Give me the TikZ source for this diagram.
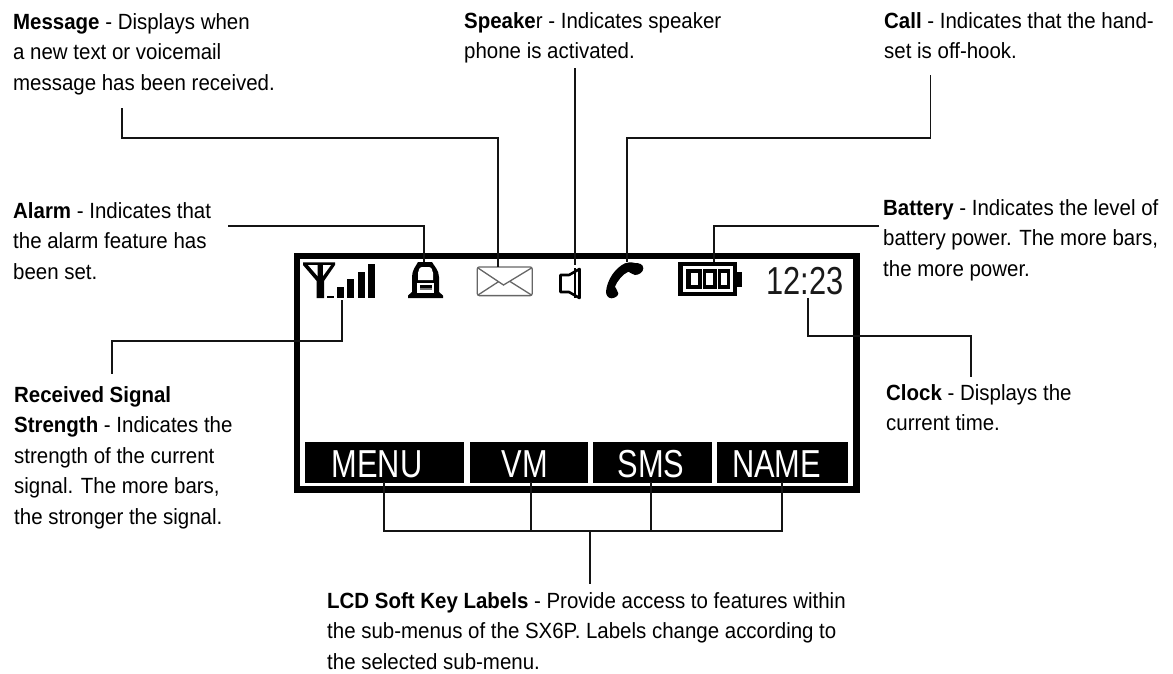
\documentclass[tikz,border=0pt]{standalone}
\usepackage{fontspec}
\setmainfont[FakeStretch=0.93]{Liberation Sans}
\newfontfamily\lcdfont[FakeStretch=0.79]{Liberation Sans}
\tikzset{
 x=1pt,y=-1pt,
 note/.style={anchor=north west,inner sep=0pt,align=left,font=\fontsize{22}{30.5}\selectfont,text=black},
 wire/.style={draw=black!92,line width=1.6pt},
 keybox/.style={fill=black,inner sep=0pt,outer sep=0pt,minimum height=41pt},
 lcdtext/.style={inner sep=0pt,font=\fontsize{39}{39}\selectfont\lcdfont},
}
\begin{document}
\begin{tikzpicture}
\useasboundingbox (0,0) rectangle (1173,673);
% LCD frame
\node[draw=black,line width=6.5pt,minimum width=559.5pt,minimum height=233.5pt,inner sep=0pt,outer sep=0pt,anchor=north west] (lcd) at (297.2,256) {};
% soft keys
\node[keybox,minimum width=159pt] (menu) at (384.5,462.2) {};
\node[keybox,minimum width=118pt] (vm) at (529,462.2) {};
\node[keybox,minimum width=118.5pt] (sms) at (652.5,462.2) {};
\node[keybox,minimum width=131pt] (name) at (782.2,462.2) {};
\node[lcdtext,text=white,anchor=base] (menut) at (377,477.7) {MENU};
\node[lcdtext,text=white,anchor=base] (vmt) at (525,477.7) {VM};
\node[lcdtext,text=white,anchor=base] (smst) at (651,477.7) {SMS};
\node[lcdtext,text=white,anchor=base] (namet) at (776.7,477.7) {NAME};
\node[lcdtext,text=black!90,anchor=base] (clock) at (805,294) {12:23};
% antenna and signal bars
\fill (303,262.3) -- (335,262.3) -- (335,265) -- (324,281) -- (324,298) -- (316.7,298) -- (316.7,281) -- (303,265) -- cycle;
\fill[white] (308,265) -- (317.5,265) -- (317.5,276) -- cycle;
\fill[white] (323,265) -- (331,265) -- (323,276) -- cycle;
\fill (327,295.7) rectangle (334,298);
\fill (336.7,287) rectangle (344,298);
\fill (346.7,279) rectangle (354,298);
\fill (357.7,271.7) rectangle (365,298);
\fill (367.7,264) rectangle (375,298);
% bell icon
\fill (408,298) -- (408,295.5) -- (412,292) -- (412,277) .. controls (412,270) and (416,266) .. (418,262) -- (432,262) .. controls (434,266) and (439,270) .. (439,277) -- (439,292) -- (443,295.5) -- (443,298) -- cycle;
\fill[white] (418,280) -- (418,273) .. controls (418,270) and (420,267) .. (422,267) -- (429,267) .. controls (431,267) and (433,270) .. (433,273) -- (433,280) -- cycle;
\fill[white] (417,283) rectangle (434,292.5);
\fill (420,285) rectangle (432,288);
\fill[black!55] (420,288) rectangle (432,290);
% envelope icon
\draw[line width=1.3pt,draw=black!60,rounded corners=2pt] (477.3,267) rectangle (532.2,295.6);
\draw[line width=1.3pt,draw=black!60] (478,268) -- (503.5,285) -- (531.5,268) (478,295) -- (498,282) (531.5,295) -- (510,281.5);
% speaker icon
\draw[line width=2.6pt,line join=round] (560.5,275) -- (569,275) -- (579.5,269) -- (579.5,298) -- (569,292) -- (560.5,292) -- cycle;
\draw[line width=1.4pt] (575,268) -- (575,298);
% handset icon
\fill (625,263.3) .. controls (615,268) and (607,280) .. (606,291.7) .. controls (606,295) and (608,298.3) .. (611.7,298.3) .. controls (615,298) and (618.3,296) .. (618.3,293.3) .. controls (618.3,290) and (615,289) .. (615,286.7) .. controls (617,281) and (623,274) .. (628.3,271.7) .. controls (631,272) and (632,275) .. (635,275) .. controls (639,275) and (643.3,272) .. (643.3,268.3) .. controls (643.3,264) and (639,263) .. (635,263) .. controls (631,262) and (628,262) .. (625,263.3) -- cycle;
% battery icon
\fill (678.3,261.7) rectangle (736.7,296);
\fill (736.7,271.7) rectangle (742,286.7);
\fill[white] (682.7,265.7) rectangle (733,291.7);
\fill (685.7,269) rectangle (730,289);
\fill[white] (690.7,273.3) rectangle (697.7,284.7);
\fill[white] (706,273.3) rectangle (712.5,284.7);
\fill[white] (721,273.3) rectangle (727,284.7);
\fill[white] (701.5,269) rectangle (703,289);
\fill[white] (716.5,269) rectangle (718,289);
% notes
\node[note] (msg) at (13,13) {\textbf{Message} - Displays when\\a new text or voicemail\\message has been received.};
\node[note] (spk) at (464,12) {\textbf{Speake}r - Indicates speaker\\phone is activated.};
\node[note] (cal) at (884,12) {\textbf{Call} - Indicates that the hand-\\set is off-hook.};
\node[note] (alm) at (13,202) {\textbf{Alarm} - Indicates that\\the alarm feature has\\been set.};
\node[note] (bat) at (883,199) {\textbf{Battery} - Indicates the level of\\battery power. The more bars,\\the more power.};
\node[note] (rss) at (14,386) {\textbf{Received Signal}\\\textbf{Strength} - Indicates the\\strength of the current\\signal. The more bars,\\the stronger the signal.};
\node[note] (clk) at (886,384) {\textbf{Clock} - Displays the\\current time.};
\node[note] (lcdn) at (327,592) {\textbf{LCD Soft Key Labels} - Provide access to features within\\the sub-menus of the SX6P. Labels change according to\\the selected sub-menu.};
% connector ends
\coordinate (msgend) at (122,108);
\coordinate (msgbend) at (122,138);
\coordinate (envtop) at (498,267);
\coordinate (spkend) at (575,68);
\coordinate (spktop) at (575,265);
\coordinate (calend) at (930.5,75);
\coordinate (caltop) at (627,262);
\coordinate (almend) at (228,226);
\coordinate (belltop) at (424,262);
\coordinate (batend) at (879,226);
\coordinate (battop) at (714,262);
\coordinate (sigtop) at (342,300);
\coordinate (sigend) at (112,374);
\coordinate (clktop) at (808,298);
\coordinate (clkend) at (971,377);
\coordinate (hub) at (590,530.7);
\coordinate (hubend) at (590,584);
\coordinate (k1) at (383.7,482);
\coordinate (k2) at (531,482);
\coordinate (k3) at (651,482);
\coordinate (k4) at (781.7,482);
% connectors
\draw[wire] (msgend) -- (msgbend) -| (envtop);
\draw[wire] (spkend) -- (spktop);
\draw[wire] (calend) |- (627,138) -- (caltop);
\draw[wire] (almend) -| (belltop);
\draw[wire] (batend) -| (battop);
\draw[wire] (sigtop) |- (112,341) -- (sigend);
\draw[wire] (clktop) |- (971,336) -- (clkend);
\draw[wire] (k1) |- (hub) -| (k4);
\draw[wire] (k2) -- (k2 |- hub);
\draw[wire] (k3) -- (k3 |- hub);
\draw[wire] (hub) -- (hubend);
\end{tikzpicture}
\end{document}
